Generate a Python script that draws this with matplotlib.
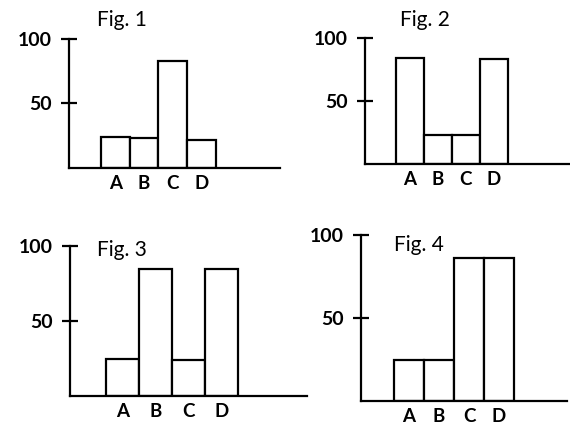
import matplotlib
matplotlib.use("Agg")
import matplotlib.pyplot as plt

plt.rcParams["font.family"] = ["Lato", "DejaVu Sans"]

categories = ["A", "B", "C", "D"]
fig1_values = [24, 23, 83, 22]
fig2_values = [84, 23, 23, 83]
fig3_values = [25, 85, 24, 85]
fig4_values = [25, 25, 86, 86]
titles = ["Fig. 1", "Fig. 2", "Fig. 3", "Fig. 4"]
y_ticks = [50, 100]

W, H = 570, 430
# pixel geometry: axis left, axis right, baseline, top(100), first bar left, bar width,
# title x, title y
panels = [
    (fig1_values, (69, 280, 168, 39, 101, 28.7, 122, 20)),
    (fig2_values, (365, 570, 164, 38, 396, 28.0, 425, 20)),
    (fig3_values, (70, 307, 396, 246, 106, 33.0, 122, 250)),
    (fig4_values, (361, 567, 401, 235, 394, 30.0, 419, 245)),
]

fig = plt.figure(figsize=(W / 100, H / 100), dpi=100)
fig.patch.set_facecolor("white")

for title, (values, geo) in zip(titles, panels):
    left, right, base, top, bar_left, bw, tx, ty = geo
    ax = fig.add_axes([left / W, 1 - base / H, (right - left) / W, (base - top) / H])
    xs = range(len(categories))
    ax.bar(xs, values, width=1.0, color="white", edgecolor="black", linewidth=1.6)
    x0 = (left - bar_left) / bw - 0.5
    x1 = (right - bar_left) / bw - 0.5
    ax.set_xlim(x0, x1)
    ax.set_ylim(0, 100)
    ax.set_xticks(list(xs))
    ax.set_xticklabels(categories, fontsize=13.5, fontweight="bold")
    ax.set_yticks(y_ticks)
    ax.set_yticklabels([str(t) for t in y_ticks], fontsize=14, fontweight="bold")
    ax.tick_params(axis="x", length=0, pad=5)
    ax.tick_params(axis="y", direction="inout", length=11, width=1.6, pad=7)
    for s in ("top", "right"):
        ax.spines[s].set_visible(False)
    for s in ("left", "bottom"):
        ax.spines[s].set_linewidth(1.6)
    ax.set_facecolor("none")
    fig.text(tx / W, 1 - ty / H, title, fontsize=15, ha="center", va="center")

fig.savefig("out.png", dpi=100, facecolor="white")
